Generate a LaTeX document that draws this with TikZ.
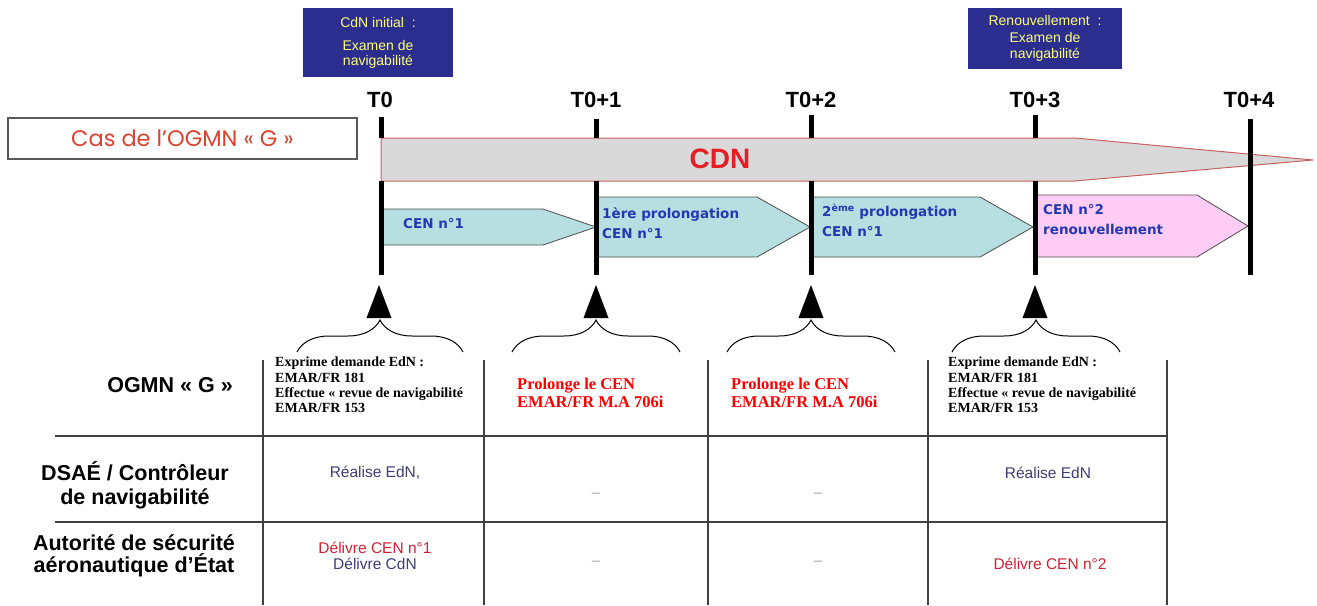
\documentclass[tikz,border=0pt]{standalone}
\usepackage{fontspec}
\setmainfont{Liberation Sans}
\newfontfamily\timesf{Liberation Serif}
\newfontfamily\verdf{DejaVu Sans}
\newfontfamily\gothf{Poppins}
\usepackage{tikz}
\usetikzlibrary{positioning,calc,decorations.pathreplacing}
\definecolor{boxblue}{HTML}{2B2E8F}
\definecolor{boxtext}{HTML}{FFFF7A}
\definecolor{casred}{HTML}{D9432F}
\definecolor{cdnred}{HTML}{E31E24}
\definecolor{cdnfill}{HTML}{D9D9D9}
\definecolor{cdnedge}{HTML}{C9605C}
\definecolor{cenfill}{HTML}{B7DEE1}
\definecolor{cenpink}{HTML}{FFCCF5}
\definecolor{cenblue}{HTML}{2438B0}
\definecolor{ednblue}{HTML}{3D3D7A}
\definecolor{delred}{HTML}{CC2233}
\definecolor{gridgray}{HTML}{404040}

\begin{document}
\begin{tikzpicture}[x=1pt,y=-1pt,
  tlabel/.style={font=\fontsize{22}{24}\selectfont\bfseries},
  bluebox/.style={fill=boxblue,text=boxtext,align=center,inner sep=0pt,font=\fontsize{14}{15}\selectfont},
  cenarrow/.style={fill=cenfill,draw=black!70,line width=0.8pt},
  cenlabel/.style={anchor=west,align=left,inner sep=0pt,text=cenblue,font=\verdf\bfseries\fontsize{13.5}{20}\selectfont},
  tick/.style={line width=5pt},
  rowlabel/.style={align=center,font=\fontsize{21.5}{24}\selectfont\bfseries},
  demande/.style={anchor=west,align=left,inner sep=0pt,font=\timesf\bfseries\fontsize{14}{15.3}\selectfont},
  prolonge/.style={anchor=west,align=left,inner sep=0pt,text=red,font=\timesf\bfseries\fontsize{16.5}{18}\selectfont},
  cell/.style={align=center,inner sep=0pt,font=\fontsize{15.5}{16}\selectfont},
  nix/.style={text=gray!70,font=\fontsize{15}{16}\selectfont},
  grid/.style={draw=gridgray,line width=1.3pt},
  brc/.style={decorate,decoration={brace,amplitude=32pt},line width=1pt}]
\useasboundingbox (0,0) rectangle (1317,605);

% en-tete
\node[bluebox,minimum width=150,minimum height=69] (exam0) at (378,42.5)
  {CdN initial \ :\\[8pt]Examen de\\navigabilité};
\node[bluebox,minimum width=154,minimum height=61,font=\fontsize{14}{16.5}\selectfont] (exam3) at (1045,38.5)
  {Renouvellement \ :\\Examen de\\navigabilité};
\node[draw=black!65,line width=1.3pt,minimum width=349,minimum height=41,inner sep=0pt,
  text=casred,font=\gothf\fontsize{22.5}{24}\selectfont] (cas) at (182.5,138.5) {Cas de l’OGMN « G »};

\node[tlabel] (t0) at (380,100) {T0};
\node[tlabel] (t1) at (596,100) {T0+1};
\node[tlabel] (t2) at (811,100) {T0+2};
\node[tlabel] (t3) at (1035,100) {T0+3};
\node[tlabel] (t4) at (1249,100) {T0+4};

% CDN
\draw[fill=cdnfill,draw=cdnedge,line width=1pt] (381,138) -- (1075,138) -- (1313,160) -- (1075,181) -- (381,181) -- cycle;
\node[text=cdnred,font=\fontsize{28}{30}\selectfont\bfseries] (cdn) at (720,159) {CDN};

% CEN
\draw[cenarrow] (381,209) -- (543,209) -- (596,227) -- (543,245) -- (381,245) -- cycle;
\draw[cenarrow] (596,197) -- (757,197) -- (810,227) -- (757,257) -- (596,257) -- cycle;
\draw[cenarrow] (810,197) -- (980,197) -- (1033,227) -- (980,257) -- (810,257) -- cycle;
\draw[cenarrow,fill=cenpink] (1035,195) -- (1197,195) -- (1248,226) -- (1197,257) -- (1035,257) -- cycle;
\node[cenlabel] (cen1) at (403,224) {CEN n°1};
\node[cenlabel] (cen2) at (602,223.5) {1ère prolongation\\CEN n°1};
\node[cenlabel] (cen3) at (822,220) {2\textsuperscript{ème} prolongation\\CEN n°1};
\node[cenlabel] (cen4) at (1043,220) {CEN n°2\\renouvellement};

% reperes
\draw[tick] (381,117) -- (381,138);
\draw[tick] (381,181) -- (381,275);
\draw[tick] (596,119) -- (596,138);
\draw[tick] (596,181) -- (596,275);
\draw[tick] (811,115) -- (811,138);
\draw[tick] (811,181) -- (811,275);
\draw[tick] (1035,115) -- (1035,138);
\draw[tick] (1035,181) -- (1035,275);
\draw[tick] (1250,119) -- (1250,275);

\fill (379,285) -- (366.5,318) -- (391.5,318) -- cycle;
\fill (596,285) -- (583.5,318) -- (608.5,318) -- cycle;
\fill (811,285) -- (798.5,318) -- (823.5,318) -- cycle;
\fill (1035,285) -- (1022.5,318) -- (1047.5,318) -- cycle;
\draw[brc] (297,352) -- (463,352);
\draw[brc] (512,352) -- (680,352);
\draw[brc] (727,352) -- (895,352);
\draw[brc] (952,352) -- (1120,352);

% tableau
\draw[grid] (55,436) -- (1167,436);
\draw[grid] (55,522) -- (1167,522);
\draw[grid] (263,360) -- (263,605);
\draw[grid] (484,360) -- (484,605);
\draw[grid] (708,360) -- (708,605);
\draw[grid] (928,360) -- (928,605);
\draw[grid] (1167,360) -- (1167,605);

\node[rowlabel] (ogmn) at (170,385) {OGMN « G »};
\node[rowlabel] (dsae) at (135,485) {DSAÉ / Contrôleur\\de navigabilité};
\node[rowlabel,font=\fontsize{21.5}{22}\selectfont\bfseries] (asa) at (134,556) {Autorité de sécurité\\aéronautique d’État};

\node[demande] (dem0) at (275,385) {Exprime demande EdN :\\EMAR/FR 181\\Effectue « revue de navigabilité\\EMAR/FR 153};
\node[prolonge] (pro1) at (517,393) {Prolonge le CEN\\EMAR/FR M.A 706i};
\node[prolonge] (pro2) at (731,393) {Prolonge le CEN\\EMAR/FR M.A 706i};
\node[demande] (dem3) at (948,385) {Exprime demande EdN :\\EMAR/FR 181\\Effectue « revue de navigabilité\\EMAR/FR 153};

\node[cell,text=ednblue] (edn0) at (375,473) {Réalise EdN,};
\node[nix] (nix1) at (596,495) {–};
\node[nix] (nix2) at (818,495) {–};
\node[cell,text=ednblue] (edn3) at (1048,473) {Réalise EdN};

\node[cell,text=delred] (del0) at (375,548) {Délivre CEN n°1};
\node[cell,text=ednblue] (cdn0) at (375,564) {Délivre CdN};
\node[nix] (nix3) at (596,563) {–};
\node[nix] (nix4) at (818,563) {–};
\node[cell,text=delred] (del3) at (1050,564) {Délivre CEN n°2};
\end{tikzpicture}
\end{document}
